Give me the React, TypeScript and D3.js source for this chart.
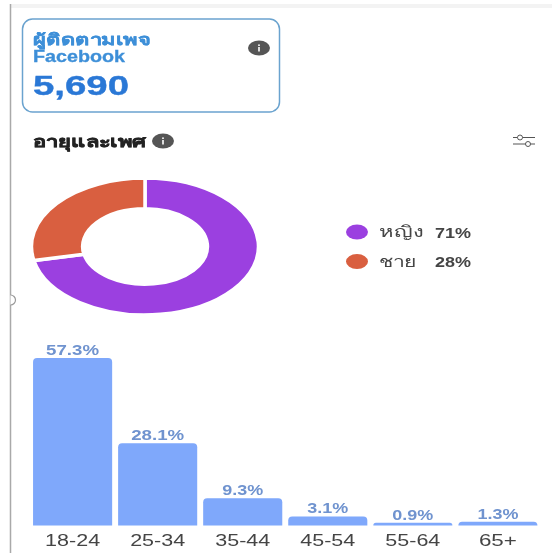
import React from "react";
import * as d3 from "d3";

const ageGroups = ["18-24", "25-34", "35-44", "45-54", "55-64", "65+"];
const agePercents = [57.3, 28.1, 9.3, 3.1, 0.9, 1.3];
const genderLabels = ["หญิง", "ชาย"];
const genderPercents = [71, 28];
const genderColors = ["#9b3fe0", "#d95f3f"];
const cardTitle = ["ผู้ติดตามเพจ", "Facebook"];
const cardValue = "5,690";
const sectionTitle = "อายุและเพศ";

const FONT = "'Liberation Sans', 'Noto Sans', 'DejaVu Sans', sans-serif";

const Info = ({ cx, cy }: { cx: number; cy: number }) => (
  <g>
    <ellipse cx={cx} cy={cy} rx={11} ry={7.5} fill="#555" />
    <rect x={cx - 1} y={cy - 1} width={2} height={4.5} fill="#ddd" />
    <rect x={cx - 1} y={cy - 3.6} width={2} height={1.6} fill="#ddd" />
  </g>
);

export default function App() {
  const x = d3.scaleBand<string>().domain(ageGroups).range([30.5, 540]).paddingInner(0.07).paddingOuter(0.03);
  const y = d3.scaleLinear().domain([0, 57.3]).range([525.5, 358]);
  const pieData = d3.pie<number>().sort(null).startAngle(0).endAngle(Math.PI * 2)(genderPercents);
  const arc = d3.arc<d3.PieArcDatum<number>>().innerRadius(0.55).outerRadius(1);
  const barPath = (px: number, py: number, w: number, h: number) => {
    const r = Math.min(4, h);
    return `M${px},${py + h}V${py + r}Q${px},${py} ${px + r},${py}H${px + w - r}Q${px + w},${py} ${px + w},${py + r}V${py + h}Z`;
  };
  return (
    <svg width={552} height={553} style={{ position: "absolute", left: 0, top: 0, background: "#fff" }} fontFamily={FONT}>
      <defs>
        <filter id="soft" x="-5%" y="-5%" width="110%" height="110%">
          <feGaussianBlur stdDeviation="0.55" />
        </filter>
      </defs>
      <g filter="url(#soft)">
        <rect x={10} y={4} width={542} height={4} fill="#f3f3f3" />
        <line x1={10.5} y1={4} x2={10.5} y2={553} stroke="#a9a9a9" strokeWidth={1.5} />
        <path d="M10.5,295 a5,5 0 0 1 5,5 a5,5 0 0 1 -5,5" fill="#fff" stroke="#999" strokeWidth={1.2} />

        <rect x={22.5} y={19} width={257} height={93} rx={10} fill="#fff" stroke="#6ba3cf" strokeWidth={1.5} />
        <text x={33} y={45} fontSize={15} fontWeight={700} fill="#3d8fd8" stroke="#3d8fd8" strokeWidth={0.3} textLength={118} lengthAdjust="spacingAndGlyphs">{cardTitle[0]}</text>
        <text x={33} y={62} fontSize={16} fontWeight={700} fill="#3d8fd8" stroke="#3d8fd8" strokeWidth={0.3} textLength={92} lengthAdjust="spacingAndGlyphs">{cardTitle[1]}</text>
        <text x={33} y={95} fontSize={28} fontWeight={700} fill="#2b78d6" stroke="#2b78d6" strokeWidth={0.4} textLength={96} lengthAdjust="spacingAndGlyphs">{cardValue}</text>
        <Info cx={259} cy={48} />

        <text x={33} y={147} fontSize={15} fontWeight={700} fill="#222" stroke="#222" strokeWidth={0.5} textLength={114} lengthAdjust="spacingAndGlyphs">{sectionTitle}</text>
        <Info cx={163} cy={141} />

        <g stroke="#555" strokeWidth={1} fill="#fff">
          <line x1={513} y1={137.5} x2={535} y2={137.5} />
          <line x1={513} y1={144} x2={535} y2={144} />
          <circle cx={520} cy={137.5} r={2.5} />
          <circle cx={528} cy={144} r={2.5} />
        </g>

        <g transform="translate(145,246.5) scale(113.5,68.5)">
          {pieData.map((d, i) => (
            <path key={i} d={arc(d) ?? ""} fill={genderColors[i]} stroke="#fff" strokeWidth={3.5} vectorEffect="non-scaling-stroke" />
          ))}
        </g>

        {genderLabels.map((label, i) => {
          const cy = 232 + i * 29.5;
          return (
            <g key={label}>
              <ellipse cx={357} cy={cy} rx={11} ry={7.5} fill={genderColors[i]} />
              <text x={379} y={cy + 5} fontSize={15} fill="#444" textLength={i === 0 ? 44 : 38} lengthAdjust="spacingAndGlyphs">{label}</text>
              <text x={435} y={cy + 5.5} fontSize={15} fontWeight={700} fill="#444" textLength={36} lengthAdjust="spacingAndGlyphs">{genderPercents[i]}%</text>
            </g>
          );
        })}

        {ageGroups.map((g, i) => {
          const bx = x(g) ?? 0;
          const top = y(agePercents[i]);
          const cx = bx + x.bandwidth() / 2;
          return (
            <g key={g}>
              <path d={barPath(bx, top, x.bandwidth(), y(0) - top)} fill="#7fa8fb" />
              <text x={cx} y={top - 3} textAnchor="middle" fontSize={15} fontWeight={700} fill="#6f93cf" textLength={agePercents[i] >= 10 ? 53 : 41} lengthAdjust="spacingAndGlyphs">{agePercents[i]}%</text>
              <text x={cx} y={546} textAnchor="middle" fontSize={17} fill="#444" textLength={g === "65+" ? 38 : 55} lengthAdjust="spacingAndGlyphs">{g}</text>
            </g>
          );
        })}
      </g>
    </svg>
  );
}
